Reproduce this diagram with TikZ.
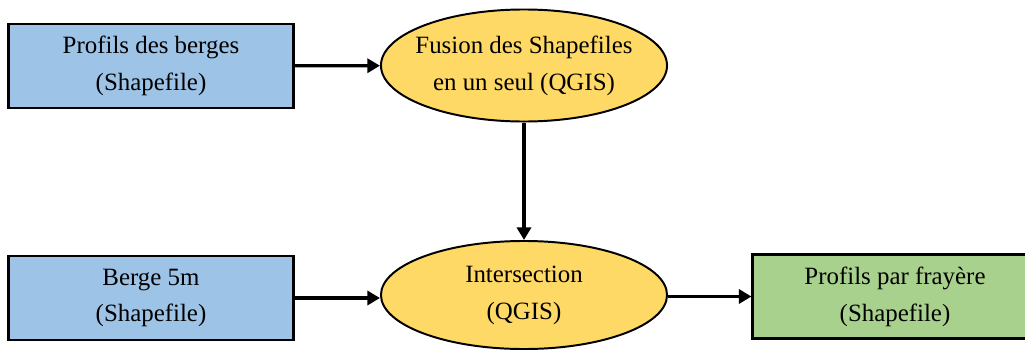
\documentclass[tikz,border=0pt]{standalone}
\usepackage{fontspec}
\setmainfont{Liberation Serif}
\usepackage{tikz}
\usetikzlibrary{arrows, arrows.meta, positioning, shapes}
\definecolor{bleuclair}{RGB}{157,195,230}
\definecolor{jaune}{RGB}{255,217,102}
\definecolor{vertclair}{RGB}{169,209,142}
\newcommand{\textefig}{\fontsize{17.7}{26.3}\selectfont}
\tikzset{>={Stealth[length=9pt, width=10pt, inset=0pt]}}
\tikzset{
  donnee/.style={draw, line width=2.1pt, rectangle, minimum width=7.1cm, minimum height=2.1cm, align=center, font=\textefig},
  traitement/.style={draw, line width=1.4pt, ellipse, fill=jaune, minimum width=7.15cm, minimum height=2.8cm, inner ysep=0pt, inner xsep=-0.2cm, align=center, font=\textefig},
  fleche/.style={->, line width=2.3pt}
}

\begin{document}
\begin{tikzpicture}[x=0.025cm, y=-0.025cm]

  \useasboundingbox (0,0) rectangle (1025,349);
  \clip (0,0) rectangle (1025,349);

  % couches en entree
  \node [donnee, fill=bleuclair] (profils) at (151,66) {Profils des berges\\(Shapefile)};
  \node [donnee, fill=bleuclair] (berge) at (151,298) {Berge 5m\\(Shapefile)};

  % traitements QGIS
  \node [traitement] (fusion) at (524,65.5) {Fusion des Shapefiles\\en un seul (QGIS)};
  \node [traitement, minimum height=2.7cm] (inter) at (524,295) {Intersection\\(QGIS)};

  % resultat
  \node [donnee, fill=vertclair, minimum height=2.08cm] (resultat) at (895,296.5) {Profils par frayère\\(Shapefile)};

  \draw [fleche] (profils) -- (fusion);
  \draw [fleche] (fusion) -- (inter);
  \draw [fleche] (berge.east) -- (berge.east -| inter.west);
  \draw [fleche] (inter.east |- resultat.west) -- (resultat.west);

\end{tikzpicture}
\end{document}
